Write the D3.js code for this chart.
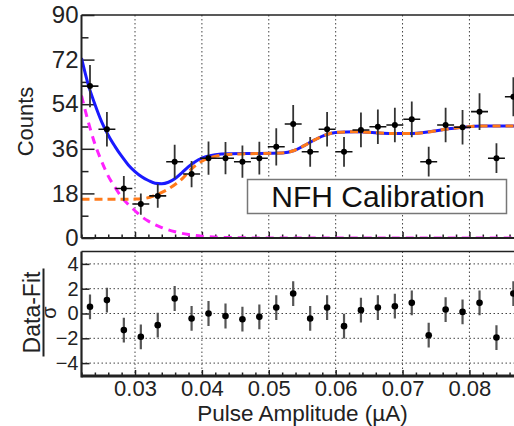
<!DOCTYPE html>
<html><head><meta charset="utf-8">
<script src="https://cdn.jsdelivr.net/npm/d3@7"></script>
<style>
html,body{margin:0;padding:0;background:#fff;}
svg{display:block;font-family:"Liberation Sans",Arial,Helvetica,sans-serif;}
</style></head><body>
<svg id="chart" width="514" height="426"></svg>
<script>
// ---------- data ----------
const binCenters = [0.02327,0.02580,0.02833,0.03087,0.03340,0.03593,0.03846,0.04099,0.04353,0.04606,0.04859,0.05112,0.05365,0.05619,0.05872,0.06125,0.06378,0.06631,0.06885,0.07138,0.07391,0.07644,0.07897,0.08151,0.08404,0.08657];
const binHalfWidth = 0.001266;
const counts   = [61.3,43.9,20.0,13.7,17.0,30.8,25.8,32.2,32.2,30.8,32.2,36.8,46.0,34.8,43.9,34.8,43.6,44.9,45.6,47.9,30.8,45.6,44.7,51.0,32.2,57.0];
const countErr = [8.5,7.0,5.0,4.3,4.8,6.8,5.3,6.7,6.5,6.5,6.6,7.5,7.7,6.0,7.0,6.0,7.0,7.0,7.0,7.2,6.0,7.0,7.0,7.4,6.0,7.9];
const residuals = [0.54,1.08,-1.34,-1.88,-0.94,1.21,-0.40,0.00,-0.20,-0.46,-0.27,0.48,1.61,-0.40,0.48,-1.02,0.27,0.48,0.59,0.86,-1.75,0.32,0.13,0.86,-1.94,1.61];
const residualErr = [1,1,1,1,1,1,1,1,1,1,1,1,1,1,1,1,1,1,1,1,1,1,1,1,1,1];

// fit curves [pulse amplitude, counts]
const totalFit = [[0.022,72.6],[0.023,62],[0.024,54],[0.025,47],[0.026,41.5],[0.027,37],[0.028,33],[0.029,29.5],[0.030,26.8],[0.031,24.7],[0.032,23.2],[0.033,22.1],[0.034,21.9],[0.035,22.5],[0.036,24],[0.037,26.3],[0.038,28.8],[0.039,30.8],[0.040,32.2],[0.041,33.1],[0.042,33.6],[0.044,34.0],[0.047,34.1],[0.052,34.3],[0.0538,35.3],[0.0553,37.3],[0.057,39.8],[0.0585,41.6],[0.060,42.6],[0.063,42.9],[0.068,42.2],[0.0715,42.2],[0.0765,43.9],[0.079,44.7],[0.082,45.2],[0.0878,45.2]];
const bkgFit = [[0.022,15.6],[0.026,15.6],[0.030,15.7],[0.0315,16.0],[0.033,17.2],[0.035,19.8],[0.037,23.8],[0.0385,28.0],[0.040,31.0],[0.0415,32.6],[0.0435,33.6],[0.047,34.0],[0.052,34.3],[0.0538,35.3],[0.0553,37.3],[0.057,39.8],[0.0585,41.6],[0.060,42.6],[0.063,42.9],[0.068,42.2],[0.0715,42.2],[0.0765,43.9],[0.079,44.7],[0.082,45.2],[0.0878,45.2]];
const sigFit = [[0.022,57.5],[0.023,47],[0.024,38],[0.025,31],[0.026,25],[0.027,20.5],[0.028,16.5],[0.029,13.5],[0.030,11],[0.031,8.6],[0.032,6.8],[0.034,4.2],[0.036,2.5],[0.038,1.4],[0.040,0.7],[0.044,0.2],[0.050,0],[0.0878,0]];

const xMajorTicks = [0.03,0.04,0.05,0.06,0.07,0.08];
const xTickLabels = ["0.03","0.04","0.05","0.06","0.07","0.08"];
const countTicks = [0,18,36,54,72,90];
const countMinorTicks = [9,27,45,63,81];
const residTicks = [-4,-2,0,2,4];
const residTickLabels = ["\u22124","\u22122","0","2","4"];
const xLabel = "Pulse Amplitude (\u00b5A)";
const yLabelTop = "Counts";
const legendText = "NFH Calibration";

// ---------- scales ----------
const svg = d3.select("#chart");
const X0 = 81.5, X1 = 521.6;
const x = d3.scaleLinear().domain([0.022, 0.0878]).range([X0, X1]);
const yT = d3.scaleLinear().domain([0, 90]).range([238, 15]);
const yB = d3.scaleLinear().domain([-5, 5]).range([375.5, 251.5]);
const xMinor = d3.range(0.022, 0.0879, 0.002).filter(v => !xMajorTicks.some(t => Math.abs(t - v) < 1e-6));

const defs = svg.append("defs");
defs.append("clipPath").attr("id","clipT").append("rect").attr("x",X0).attr("y",15).attr("width",X1-X0).attr("height",223);
defs.append("clipPath").attr("id","clipB").append("rect").attr("x",X0).attr("y",251.5).attr("width",X1-X0).attr("height",124);

const gridStyle = g => g.attr("stroke","#444").attr("stroke-width",1).attr("stroke-dasharray","1.5,2.5");

// ---------- top panel ----------
const topG = svg.append("g");
gridStyle(topG.append("g").selectAll("line").data(xMajorTicks).join("line")
  .attr("x1",d=>x(d)).attr("x2",d=>x(d)).attr("y1",15).attr("y2",238));

// ticks
topG.append("g").attr("transform","translate(0,238)")
  .call(d3.axisBottom(x).tickValues(xMajorTicks).tickSize(-6).tickFormat(""))
  .call(g=>g.select(".domain").remove());
topG.append("g").attr("transform","translate(0,238)")
  .call(d3.axisBottom(x).tickValues(xMinor).tickSize(-3.5).tickFormat(""))
  .call(g=>g.select(".domain").remove());
topG.append("g").attr("transform",`translate(${X0},0)`)
  .call(d3.axisLeft(yT).tickValues(countTicks).tickSize(-13).tickPadding(3).tickFormat(d=>d))
  .call(g=>g.select(".domain").remove())
  .call(g=>g.selectAll("text").attr("font-size",24).attr("fill","#222").attr("font-family","Liberation Sans, Arial, sans-serif"));
topG.append("g").attr("transform",`translate(${X0},0)`)
  .call(d3.axisLeft(yT).tickValues(countMinorTicks).tickSize(-7).tickFormat(""))
  .call(g=>g.select(".domain").remove());
topG.selectAll(".tick line").attr("stroke","#222").attr("stroke-width",1.5);

// curves
const line = d3.line().x(d=>x(d[0])).y(d=>yT(d[1])).curve(d3.curveMonotoneX);
const curves = topG.append("g").attr("clip-path","url(#clipT)");
curves.append("path").datum(sigFit).attr("d",line).attr("fill","none")
  .attr("stroke","#ff22ff").attr("stroke-width",3).attr("stroke-dasharray","8,6");
curves.append("path").datum(totalFit).attr("d",line).attr("fill","none")
  .attr("stroke","#1a1aff").attr("stroke-width",3);
curves.append("path").datum(bkgFit).attr("d",line).attr("fill","none")
  .attr("stroke","#ff7a1a").attr("stroke-width",3).attr("stroke-dasharray","8,5");

// legend box (covers grid)
topG.append("rect").attr("x",247.5).attr("y",179.5).attr("width",259).attr("height",34)
  .attr("fill","#fff").attr("stroke","#777").attr("stroke-width",1.5);
topG.append("text").attr("x",378).attr("y",206.5).attr("text-anchor","middle")
  .attr("font-size",30).attr("fill","#111").text(legendText);

// data points
const pts = topG.append("g").attr("clip-path","url(#clipT)");
const td = binCenters.map((c,i)=>({c, v:counts[i], e:countErr[i]}));
pts.selectAll("line.v").data(td).join("line").attr("class","v")
  .attr("x1",d=>x(d.c)).attr("x2",d=>x(d.c)).attr("y1",d=>yT(d.v+d.e)).attr("y2",d=>yT(d.v-d.e))
  .attr("stroke","#333").attr("stroke-width",1.8);
pts.selectAll("line.h").data(td).join("line").attr("class","h")
  .attr("x1",d=>x(d.c-binHalfWidth)).attr("x2",d=>x(d.c+binHalfWidth)).attr("y1",d=>yT(d.v)).attr("y2",d=>yT(d.v))
  .attr("stroke","#111").attr("stroke-width",1.6);
pts.selectAll("circle").data(td).join("circle")
  .attr("cx",d=>x(d.c)).attr("cy",d=>yT(d.v)).attr("r",3).attr("fill","#000");

// frame
topG.append("line").attr("x1",X0).attr("x2",X1).attr("y1",15).attr("y2",15).attr("stroke","#222").attr("stroke-width",1.6);
topG.append("line").attr("x1",X0).attr("x2",X1).attr("y1",238).attr("y2",238).attr("stroke","#222").attr("stroke-width",2);
topG.append("line").attr("x1",X0).attr("x2",X0).attr("y1",15).attr("y2",238).attr("stroke","#222").attr("stroke-width",2);

topG.append("text").attr("transform","translate(33,121.5) rotate(-90)").attr("text-anchor","middle")
  .attr("font-size",22).attr("fill","#222").text(yLabelTop);

// ---------- bottom panel ----------
const botG = svg.append("g");
gridStyle(botG.append("g").selectAll("line").data(xMajorTicks).join("line")
  .attr("x1",d=>x(d)).attr("x2",d=>x(d)).attr("y1",251.5).attr("y2",375.5));
gridStyle(botG.append("g").selectAll("line").data(residTicks).join("line")
  .attr("x1",X0).attr("x2",X1).attr("y1",d=>yB(d)).attr("y2",d=>yB(d)));

botG.append("g").attr("transform","translate(0,376)")
  .call(d3.axisBottom(x).tickValues(xMajorTicks).tickSize(-6).tickPadding(4.4).tickFormat((d,i)=>xTickLabels[i]))
  .call(g=>g.select(".domain").remove())
  .call(g=>g.selectAll("text").attr("font-size",22).attr("fill","#222").attr("font-family","Liberation Sans, Arial, sans-serif"));
botG.append("g").attr("transform","translate(0,376)")
  .call(d3.axisBottom(x).tickValues(xMinor).tickSize(-3.5).tickFormat(""))
  .call(g=>g.select(".domain").remove());
botG.append("g").attr("transform",`translate(${X0},0)`)
  .call(d3.axisLeft(yB).tickValues(residTicks).tickSize(-8).tickPadding(3).tickFormat((d,i)=>residTickLabels[i]))
  .call(g=>g.select(".domain").remove())
  .call(g=>g.selectAll("text").attr("font-size",20).attr("fill","#222").attr("font-family","Liberation Sans, Arial, sans-serif"));
botG.selectAll(".tick line").attr("stroke","#222").attr("stroke-width",1.5);

const bp = botG.append("g").attr("clip-path","url(#clipB)");
const bd = binCenters.map((c,i)=>({c, v:residuals[i], e:residualErr[i]}));
bp.selectAll("line.v").data(bd).join("line").attr("class","v")
  .attr("x1",d=>x(d.c)).attr("x2",d=>x(d.c)).attr("y1",d=>yB(d.v+d.e)).attr("y2",d=>yB(d.v-d.e))
  .attr("stroke","#555").attr("stroke-width",2.2);
bp.selectAll("circle").data(bd).join("circle")
  .attr("cx",d=>x(d.c)).attr("cy",d=>yB(d.v)).attr("r",3.3).attr("fill","#000");

botG.append("line").attr("x1",X0).attr("x2",X1).attr("y1",251.5).attr("y2",251.5).attr("stroke","#222").attr("stroke-width",1.6);
botG.append("line").attr("x1",X0).attr("x2",X1).attr("y1",376).attr("y2",376).attr("stroke","#222").attr("stroke-width",3);
botG.append("line").attr("x1",X0).attr("x2",X0).attr("y1",251.5).attr("y2",377.5).attr("stroke","#222").attr("stroke-width",2.2);

// residual axis label: (Data-Fit)/sigma
const yl = botG.append("g").attr("transform","translate(0,312.5) rotate(-90)");
yl.append("text").attr("x",0).attr("y",40).attr("text-anchor","middle").attr("font-size",23).attr("fill","#222").text("Data-Fit");
yl.append("line").attr("x1",-44).attr("x2",44).attr("y1",43.5).attr("y2",43.5).attr("stroke","#222").attr("stroke-width",2);
yl.append("text").attr("x",0).attr("y",56).attr("text-anchor","middle").attr("font-size",20).attr("fill","#222").text("\u03c3");

// x label
svg.append("text").attr("x",302.5).attr("y",421).attr("text-anchor","middle")
  .attr("font-size",22.5).attr("fill","#222").text(xLabel);
</script>
</body></html>
